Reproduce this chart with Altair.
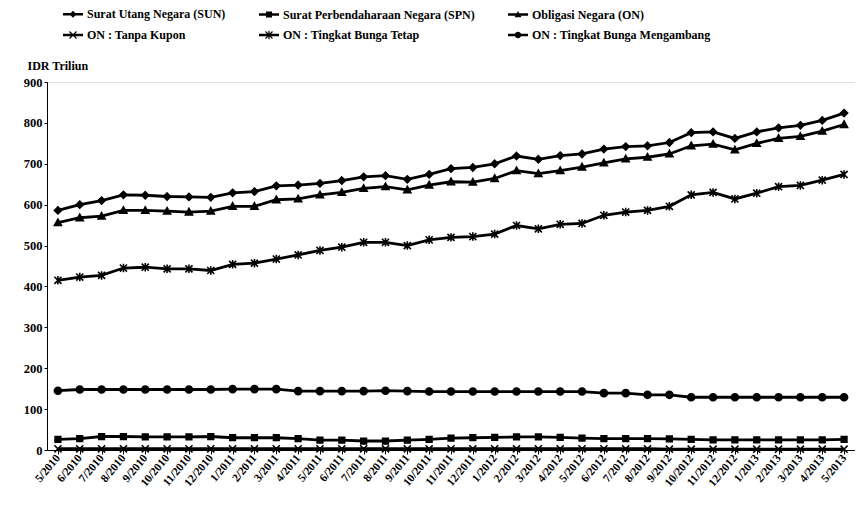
import altair as alt
import pandas as pd

months = [f"{m}/{y}" for y, ms in [(2010, range(5, 13)), (2011, range(1, 13)), (2012, range(1, 13)), (2013, range(1, 6))] for m in ms]

series = [
    "Surat Utang Negara (SUN)",
    "Surat Perbendaharaan Negara (SPN)",
    "Obligasi Negara (ON)",
    "ON : Tanpa Kupon",
    "ON : Tingkat Bunga Tetap",
    "ON : Tingkat Bunga Mengambang",
]

sun = [586, 600, 610, 624, 623, 620, 619, 618, 629, 632, 646, 648, 652, 659, 668, 671, 662, 674, 688, 691,
       700, 719, 711, 720, 724, 736, 742, 744, 752, 776, 778, 762, 778, 788, 794, 806, 824]
spn = [26, 28, 33, 33, 32, 32, 32, 33, 30, 30, 30, 28, 24, 24, 22, 22, 24, 26, 29, 30,
       31, 32, 32, 31, 29, 28, 28, 28, 27, 26, 25, 25, 25, 25, 25, 25, 26]
on = [556, 568, 572, 586, 586, 584, 582, 584, 596, 596, 612, 614, 624, 630, 640, 644, 636, 648, 656, 655,
      664, 683, 676, 683, 692, 702, 712, 716, 724, 744, 748, 734, 750, 762, 767, 780, 796]
tanpa = [3, 3, 3, 3, 3, 3, 3, 3, 3, 3, 3, 3, 3, 3, 3, 3, 3, 3, 3, 3,
         3, 3, 3, 3, 3, 3, 3, 3, 2, 2, 2, 2, 2, 2, 2, 2, 2]
tetap = [415, 423, 427, 445, 447, 443, 443, 439, 454, 457, 467, 477, 488, 496, 508, 508, 500, 514, 520, 522,
         528, 549, 541, 552, 554, 574, 582, 586, 596, 624, 630, 614, 628, 644, 647, 660, 674]
mengambang = [145, 148, 148, 148, 148, 148, 148, 148, 149, 149, 149, 144, 144, 144, 144, 145, 144, 143, 143, 143,
              143, 143, 143, 143, 143, 139, 139, 135, 135, 129, 129, 129, 129, 129, 129, 129, 129]

values = [sun, spn, on, tanpa, tetap, mengambang]

rows = []
for s, vals in zip(series, values):
    for m, v in zip(months, vals):
        rows.append({"bulan": m, "seri": s, "nilai": v})
df = pd.DataFrame(rows)

marker_paths = [
    "M0,-1L1,0L0,1L-1,0Z",
    "M-0.8,-0.8H0.8V0.8H-0.8Z",
    "M0,-1L1,0.8H-1Z",
    "M-1,-1L1,1M-1,1L1,-1",
    "M-1,-1L1,1M-1,1L1,-1M0,-1.2V1.2",
    "M1,0A1,1,0,1,1,-1,0A1,1,0,1,1,1,0Z",
]

# legend symbols: filled shapes only (a bar for the line plus the marker)
BAR = "M-1,-0.12H1V0.12H-1Z"
XBARS = "M-0.31,-0.39L0.39,0.31L0.31,0.39L-0.39,-0.31ZM0.39,-0.31L-0.31,0.39L-0.39,0.31L0.31,-0.39Z"
VBAR = "M-0.06,-0.42H0.06V0.42H-0.06Z"
legend_paths = [
    BAR + "M0,-0.35L0.35,0L0,0.35L-0.35,0Z",
    BAR + "M-0.3,-0.3H0.3V0.3H-0.3Z",
    BAR + "M0,-0.35L0.35,0.28H-0.35Z",
    BAR + XBARS,
    BAR + XBARS + VBAR,
    BAR + "M0.33,0A0.33,0.33,0,1,1,-0.33,0A0.33,0.33,0,1,1,0.33,0Z",
]

FONT = "Liberation Serif"

x_enc = alt.X(
    "bulan:O",
    sort=months,
    scale=alt.Scale(paddingOuter=0.3),
    axis=alt.Axis(
        title=None, labelAngle=-50, labelFont=FONT, labelFontWeight="bold", labelFontSize=11.5,
        labelColor="black", domainColor="black", tickColor="black", tickSize=4, labelPadding=2,
    ),
)
y_enc = alt.Y(
    "nilai:Q",
    scale=alt.Scale(domain=[0, 900], nice=False),
    axis=alt.Axis(
        title="IDR Triliun", titleAngle=0, titleX=-20, titleY=-10, titleAlign="left",
        titleBaseline="bottom", titleFont=FONT, titleFontWeight="bold", titleFontSize=12,
        titleColor="black", values=list(range(0, 901, 100)), labelFont=FONT,
        labelFontWeight="bold", labelFontSize=12.5, labelColor="black", grid=False,
        domainColor="black", tickColor="black", tickSize=3, labelPadding=2,
    ),
)

lines = alt.Chart(df).mark_line(color="black", strokeWidth=2.8).encode(
    x=x_enc, y=y_enc, detail="seri:N"
)

points = alt.Chart(df).mark_point(
    filled=True, fill="black", stroke="black", strokeWidth=1.6, opacity=1, size=50
).encode(
    x=x_enc, y=y_enc,
    shape=alt.Shape("seri:N", scale=alt.Scale(domain=series, range=marker_paths), legend=None),
)

legend_layer = alt.Chart(df).transform_filter("false").mark_point(
    filled=True, fill="black", opacity=1
).encode(
    x=x_enc, y=y_enc,
    shape=alt.Shape(
        "seri:N",
        scale=alt.Scale(domain=series, range=legend_paths),
        legend=alt.Legend(
            title=None, orient="none", legendX=15, legendY=-79, columns=3, direction="horizontal",
            columnPadding=30, rowPadding=3, symbolSize=400, symbolFillColor="black",
            symbolOpacity=1, labelFont=FONT,
            labelFontWeight="bold", labelFontSize=12, labelColor="black", labelLimit=400,
            labelOffset=3,
        ),
    ),
)

chart = (
    alt.layer(lines, points, legend_layer)
    .resolve_scale(shape="independent")
    .properties(
        width=808, height=368,
        autosize=alt.AutoSizeParams(type="none"),
        padding={"left": 39, "top": 74, "right": 0, "bottom": 60},
    )
    .configure_view(stroke=None)
    .configure(background="white")
)

chart.save("out.html", embed_options={"renderer": "svg", "actions": False})
